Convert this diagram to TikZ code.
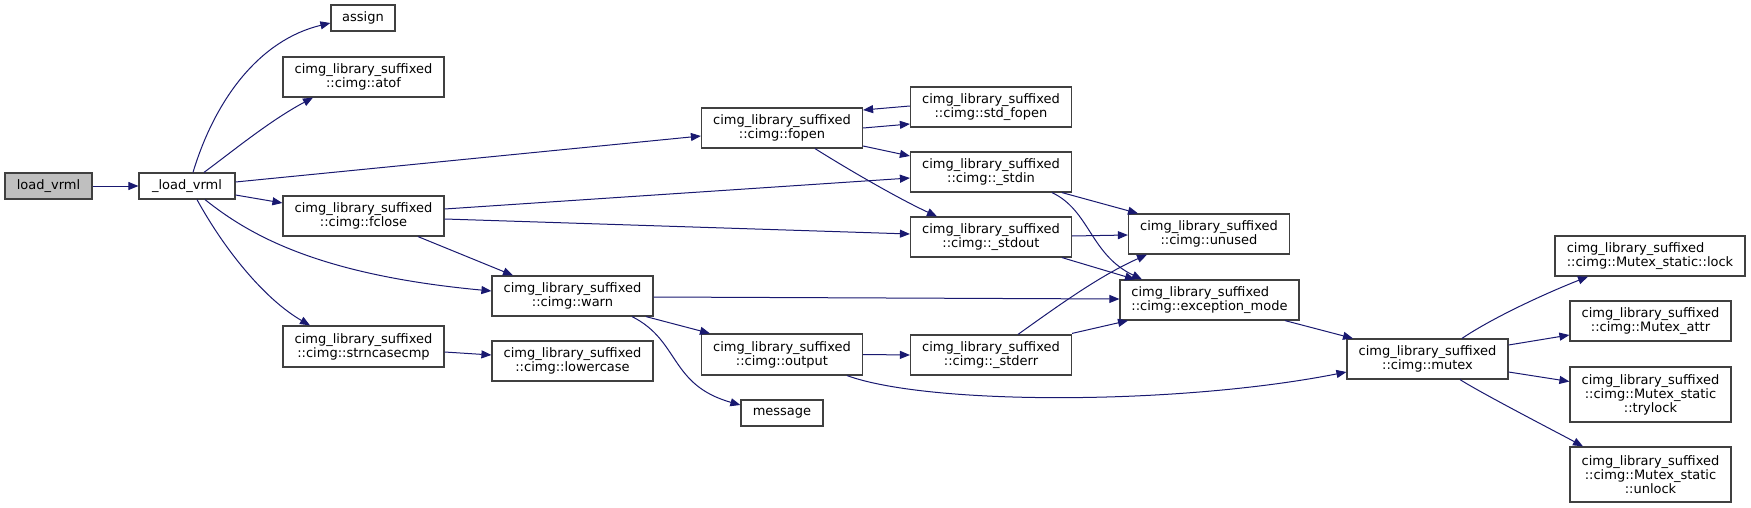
\documentclass[tikz,border=0pt]{standalone}
\usepackage{fontspec}
\setmainfont{DejaVu Sans}
\usetikzlibrary{arrows.meta,calc}
\definecolor{edgec}{HTML}{191970}
\definecolor{boxc}{HTML}{404040}
\definecolor{rootfill}{HTML}{BFBFBF}
\begin{document}
\begin{tikzpicture}[x=1pt,y=-1pt,
  fn/.style={draw=boxc,line width=1.2pt,fill=white,inner sep=0pt,
    font=\fontsize{13}{14}\selectfont,align=center,minimum height=40pt,minimum width=161pt},
  fnone/.style={fn,minimum height=26pt},
  fnthree/.style={fn,minimum height=55pt},
  call/.style={draw=edgec,line width=1pt,-{Triangle[length=10pt,width=8pt]}}]
\useasboundingbox (0,0) rectangle (1751,508);
% nodes
\node[fnone,fill=rootfill,minimum width=87pt] (lv0) at (48.5,186) {load\_vrml};
\node[fnone,minimum width=96pt] (lv) at (187,186) {\_load\_vrml};
\node[fnone,minimum width=64pt] (as) at (363,18) {assign};
\node[fn] (atof) at (363.5,77) {cimg\_library\_suffixed\\::cimg::atof};
\node[fn] (fclose) at (363.5,216) {cimg\_library\_suffixed\\::cimg::fclose};
\node[fn,minimum height=41pt] (strn) at (363.5,346.5) {cimg\_library\_suffixed\\::cimg::strncasecmp};
\node[fn] (warn) at (572.5,296) {cimg\_library\_suffixed\\::cimg::warn};
\node[fn] (lower) at (572.5,361) {cimg\_library\_suffixed\\::cimg::lowercase};
\node[fn] (fopen) at (782,128) {cimg\_library\_suffixed\\::cimg::fopen};
\node[fn,minimum height=41pt] (output) at (782,354.5) {cimg\_library\_suffixed\\::cimg::output};
\node[fnone,minimum width=82pt] (msg) at (782,413) {message};
\node[fn] (stdfopen) at (991,107) {cimg\_library\_suffixed\\::cimg::std\_fopen};
\node[fn] (stdin) at (991,172) {cimg\_library\_suffixed\\::cimg::\_stdin};
\node[fn] (stdout) at (991,237) {cimg\_library\_suffixed\\::cimg::\_stdout};
\node[fn] (stderr) at (991,355) {cimg\_library\_suffixed\\::cimg::\_stderr};
\node[fn] (unused) at (1209,234) {cimg\_library\_suffixed\\::cimg::unused};
\node[fn,minimum width=179pt,align=left] (exc) at (1209.5,300) {cimg\_library\_suffixed\\::cimg::exception\_mode};
\node[fn] (mutex) at (1427.5,359) {cimg\_library\_suffixed\\::cimg::mutex};
\node[fn,minimum width=190pt,align=left] (lock) at (1650,256) {cimg\_library\_suffixed\\::cimg::Mutex\_static::lock};
\node[fn] (attr) at (1650.5,321) {cimg\_library\_suffixed\\::cimg::Mutex\_attr};
\node[fnthree] (trylock) at (1650.5,394.5) {cimg\_library\_suffixed\\::cimg::Mutex\_static\\::trylock};
\node[fnthree] (unlock) at (1650.5,474.5) {cimg\_library\_suffixed\\::cimg::Mutex\_static\\::unlock};
% edges
\draw[call] (lv0.east) -- (lv.west);
\draw[call] ($(lv.north)+(6,0)$) .. controls +(22,-73) and +(-71,17) .. ($(as.west)+(0,5)$);
\draw[call] ($(lv.north)+(17,0)$) .. controls +(31,-23) and +(-43,23) .. ($(atof.south)+(-50.5,0)$);
\draw[call] ($(lv.east)+(0,-4)$) -- ($(fopen.west)+(0,8)$);
\draw[call] ($(lv.east)+(0,9)$) -- ($(fclose.west)+(0,-13)$);
\draw[call] ($(lv.south)+(18,0)$) .. controls +(45,36) and +(-172,-16) .. ($(warn.west)+(0,-5)$);
\draw[call] ($(lv.south)+(10,0)$) .. controls +(28,51) and +(-45,-26) .. ($(strn.north)+(-53.5,0)$);
\draw[call] ($(fclose.east)+(0,-7)$) -- ($(stdin.west)+(0,6)$);
\draw[call] ($(fclose.east)+(0,3)$) -- ($(stdout.west)+(0,-3)$);
\draw[call] ($(fclose.south)+(54.5,0)$) -- ($(warn.north)+(-59.5,0)$);
\draw[call] ($(strn.east)+(0,5.5)$) -- ($(lower.west)+(0,-6)$);
\draw[call] (fopen.east) -- ($(stdfopen.west)+(0,17)$);
\draw[call] ($(stdfopen.west)+(0,-1)$) -- ($(fopen.east)+(0,-18)$);
\draw[call] ($(fopen.east)+(0,18)$) -- ($(stdin.west)+(0,-16)$);
\draw[call] ($(fopen.south)+(33,0)$) .. controls +(35,22) and +(-37,-17) .. ($(stdout.north)+(-54,0)$);
\draw[call] ($(warn.east)+(0,1)$) -- ($(exc.west)+(0,-1)$);
\draw[call] ($(warn.south)+(73.5,0)$) -- ($(output.north)+(-72,0)$);
\draw[call] ($(warn.south)+(59.5,0)$) .. controls +(48,24) and +(-71,-20) .. ($(msg.west)+(0,-8)$);
\draw[call] (output.east) -- (stderr.west);
\draw[call] ($(output.south)+(65,0)$) .. controls +(83,30) and +(-167,33) .. ($(mutex.west)+(0,13)$);
\draw[call] ($(stdin.south)+(71,0)$) -- ($(unused.north)+(-71,0)$);
\draw[call] ($(stdin.south)+(61,0)$) .. controls +(38,18) and +(-52,-25) .. ($(exc.north)+(-67.5,0)$);
\draw[call] ($(stdout.east)+(0,-1)$) -- ($(unused.west)+(0,1)$);
\draw[call] ($(stdout.south)+(71,0)$) -- ($(exc.north)+(-74.5,0)$);
\draw[call] ($(stderr.north)+(27,0)$) .. controls +(42,-30) and +(-47,21) .. ($(unused.south)+(-62,0)$);
\draw[call] ($(stderr.north east)+(0,-1)$) -- ($(exc.south)+(-81.5,0)$);
\draw[call] ($(exc.south)+(75.5,0)$) -- ($(mutex.north)+(-74.5,0)$);
\draw[call] ($(mutex.north)+(34.5,0)$) .. controls +(28,-19) and +(-48,19) .. ($(lock.south)+(-62,0)$);
\draw[call] ($(mutex.east)+(0,-14)$) -- ($(attr.west)+(0,14)$);
\draw[call] ($(mutex.east)+(0,13)$) -- ($(trylock.west)+(0,-13)$);
\draw[call] ($(mutex.south)+(32.5,0)$) .. controls +(22,14) and +(-22,-12) .. ($(unlock.north)+(-67.5,0)$);
\end{tikzpicture}
\end{document}
